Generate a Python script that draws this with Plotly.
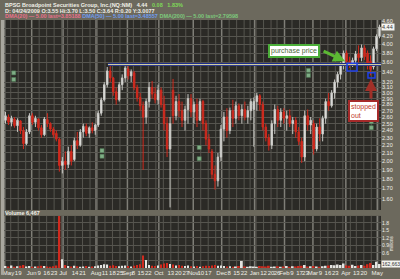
import math
import pandas as pd
import plotly.graph_objects as go

# ---------------- data ----------------
holidays = ["2008-05-26", "2008-07-04", "2008-09-01", "2008-11-27", "2008-12-25",
            "2009-01-01", "2009-01-19", "2009-02-16", "2009-04-10"]
first_day = "2008-05-06"
last_day = "2009-05-05"

opens = [
    2.55, 2.60, 2.52, 2.57, 2.47, 2.54, 2.40, 2.22, 2.38, 2.62,
    2.52, 2.57, 2.44, 2.34, 2.56, 2.50, 2.42, 2.36, 2.28, 1.95,
    2.00, 1.96, 2.12, 2.02, 2.26, 2.20, 2.38, 2.46, 2.36, 2.44,
    2.40, 2.48, 2.66, 2.88, 3.15, 3.42, 3.28, 3.02, 2.88, 3.15,
    3.28, 3.46, 3.32, 3.38, 3.10, 2.92, 2.78, 2.60, 2.85, 3.10,
    2.98, 2.88, 3.05, 2.80, 2.50, 2.15, 3.05, 2.62, 2.85, 2.70,
    2.55, 2.72, 2.90, 2.68, 2.80, 2.55, 2.85, 2.50, 2.28, 2.12,
    1.85, 1.78, 2.05, 2.42, 2.60, 2.40, 2.70, 2.58, 2.78, 2.62,
    2.72, 2.60, 2.70, 2.72, 2.85, 2.95, 2.80, 2.45, 2.30, 2.20,
    2.50, 2.72, 2.55, 2.68, 2.58, 2.62, 2.50, 2.55, 2.38, 2.25,
    2.05, 2.62, 2.48, 2.50, 2.15, 2.45, 2.35, 2.58, 2.85, 2.78,
    3.00, 3.20, 3.35, 3.55, 3.80, 3.62, 3.55, 3.64, 3.78, 3.70,
    3.92, 3.80, 3.62, 3.50, 3.90, 4.20]
highs = [
    2.68, 2.64, 2.62, 2.60, 2.58, 2.55, 2.45, 2.42, 2.66, 2.66,
    2.62, 2.58, 2.48, 2.60, 2.66, 2.52, 2.45, 2.40, 2.30, 2.05,
    2.12, 2.18, 2.20, 2.30, 2.38, 2.42, 2.50, 2.50, 2.46, 2.52,
    2.50, 2.70, 2.92, 3.20, 3.50, 3.55, 3.30, 3.10, 3.20, 3.35,
    3.52, 3.52, 3.45, 3.42, 3.15, 3.00, 2.85, 2.90, 3.20, 3.22,
    3.10, 3.15, 3.10, 2.95, 2.60, 2.60, 3.26, 2.95, 2.98, 2.85,
    2.78, 2.98, 2.98, 2.85, 2.90, 2.90, 2.88, 2.55, 2.35, 2.15,
    1.95, 2.10, 2.48, 2.68, 2.74, 2.75, 2.88, 2.85, 2.82, 2.80,
    2.85, 2.78, 2.90, 2.92, 3.00, 2.98, 2.85, 2.50, 2.35, 2.55,
    2.80, 2.78, 2.74, 2.74, 2.70, 2.72, 2.60, 2.60, 2.45, 2.30,
    2.70, 2.72, 2.60, 2.55, 2.50, 2.58, 2.62, 2.90, 3.00, 3.05,
    3.25, 3.40, 3.60, 3.86, 3.86, 3.72, 3.70, 3.85, 3.98, 4.00,
    3.98, 3.86, 3.75, 3.95, 4.25, 4.50]
lows = [
    2.50, 2.48, 2.46, 2.44, 2.38, 2.35, 2.15, 2.20, 2.35, 2.48,
    2.45, 2.40, 2.30, 2.32, 2.45, 2.38, 2.30, 2.25, 1.88, 1.86,
    1.90, 1.92, 1.95, 2.00, 2.15, 2.18, 2.30, 2.32, 2.30, 2.36,
    2.34, 2.45, 2.62, 2.85, 3.10, 3.20, 2.95, 2.80, 2.85, 3.05,
    3.20, 3.25, 3.20, 3.05, 2.85, 2.70, 1.90, 2.50, 2.75, 2.90,
    2.82, 2.80, 2.75, 2.40, 2.05, 1.52, 2.50, 2.55, 2.60, 2.45,
    2.40, 2.50, 2.60, 2.50, 2.45, 2.55, 2.40, 2.20, 2.10, 1.80,
    1.69, 1.72, 2.00, 2.25, 2.30, 2.35, 2.45, 2.50, 2.55, 2.50,
    2.55, 2.50, 2.55, 2.18, 2.70, 2.70, 2.40, 2.25, 2.13, 2.15,
    2.35, 2.45, 2.45, 2.50, 2.40, 2.45, 2.35, 2.30, 2.20, 1.98,
    2.00, 2.40, 2.35, 2.08, 2.12, 2.25, 2.25, 2.50, 2.70, 2.75,
    2.90, 3.10, 3.25, 3.45, 3.55, 3.48, 3.50, 3.52, 3.60, 3.62,
    3.65, 3.45, 3.33, 3.45, 3.85, 4.15]
closes = [
    2.62, 2.52, 2.58, 2.47, 2.55, 2.40, 2.22, 2.38, 2.62, 2.52,
    2.58, 2.44, 2.34, 2.57, 2.50, 2.42, 2.34, 2.28, 1.95, 2.00,
    1.96, 2.12, 2.00, 2.26, 2.20, 2.38, 2.46, 2.36, 2.44, 2.40,
    2.48, 2.66, 2.88, 3.15, 3.42, 3.28, 3.02, 2.88, 3.15, 3.28,
    3.48, 3.32, 3.40, 3.10, 2.92, 2.78, 2.60, 2.85, 3.10, 2.98,
    2.88, 3.05, 2.80, 2.50, 2.15, 2.50, 2.62, 2.85, 2.70, 2.55,
    2.72, 2.90, 2.68, 2.80, 2.55, 2.85, 2.50, 2.28, 2.15, 1.85,
    1.78, 2.05, 2.42, 2.60, 2.40, 2.70, 2.58, 2.78, 2.62, 2.72,
    2.60, 2.70, 2.85, 2.85, 2.95, 2.80, 2.45, 2.30, 2.20, 2.50,
    2.72, 2.55, 2.68, 2.58, 2.62, 2.50, 2.55, 2.38, 2.25, 2.05,
    2.62, 2.48, 2.55, 2.15, 2.45, 2.35, 2.58, 2.85, 2.78, 3.00,
    3.20, 3.35, 3.55, 3.80, 3.62, 3.55, 3.64, 3.78, 3.70, 3.92,
    3.72, 3.55, 3.45, 3.90, 4.20, 4.44]
volumes_m = [
    0.08, 0.06, 0.10, 0.05, 0.07, 0.09, 0.12, 0.06, 0.08, 0.05,
    0.06, 0.07, 0.09, 0.08, 0.06, 0.05, 0.07, 0.10, 2.60, 0.35,
    0.12, 0.08, 0.06, 0.09, 0.07, 0.05, 0.06, 0.08, 0.05, 0.06,
    0.07, 0.10, 0.12, 0.15, 0.14, 0.09, 0.11, 0.08, 0.07, 0.09,
    0.10, 0.08, 0.06, 0.09, 0.12, 0.15, 0.50, 0.32, 0.12, 0.09,
    0.08, 0.10, 0.14, 0.18, 0.20, 0.16, 0.14, 0.10, 0.12, 0.09,
    0.08, 0.10, 0.07, 0.06, 0.08, 0.05, 0.07, 0.09, 0.08, 0.10,
    0.12, 0.09, 0.10, 0.08, 0.06, 0.07, 0.05, 0.06, 0.08, 0.28,
    0.06, 0.05, 0.07, 0.06, 0.05, 0.08, 0.07, 0.06, 0.09, 0.05,
    0.06, 0.07, 0.05, 0.06, 0.08, 0.05, 0.07, 0.06, 0.08, 0.09,
    0.12, 0.06, 0.07, 0.08, 0.06, 0.05, 0.07, 0.09, 0.10, 0.12,
    0.11, 0.14, 0.12, 0.18, 0.10, 0.09, 0.13, 0.08, 0.10, 0.12,
    0.09, 0.15, 0.20, 0.12, 0.25, 0.16]

tick_dates = ["2008-05-06", "2008-05-19", "2008-06-02", "2008-06-09", "2008-06-16", "2008-06-23",
              "2008-07-01", "2008-07-14", "2008-07-21", "2008-08-01", "2008-08-11", "2008-08-18",
              "2008-08-25", "2008-09-02", "2008-09-08", "2008-09-15", "2008-09-22", "2008-10-01",
              "2008-10-13", "2008-10-20", "2008-10-27", "2008-11-03", "2008-11-10", "2008-11-17",
              "2008-12-01", "2008-12-08", "2008-12-15", "2008-12-22", "2009-01-02", "2009-01-12",
              "2009-01-20", "2009-01-26", "2009-02-02", "2009-02-09", "2009-02-17", "2009-02-23",
              "2009-03-02", "2009-03-09", "2009-03-16", "2009-03-23", "2009-04-01", "2009-04-13",
              "2009-04-20", "2009-05-01"]
tick_texts = ["May", "19", "Jun", "9", "16", "23", "Jul", "14", "21", "Aug", "11", "18", "25",
              "Sep", "8", "15", "22", "Oct", "13", "20", "27", "Nov", "10", "17", "Dec", "8", "15",
              "22", "Jan", "12", "20", "26", "Feb", "9", "17", "23", "Mar", "9", "16", "23", "Apr",
              "13", "20", "May"]
price_ticks = [1.6, 1.7, 1.8, 1.9, 2.0, 2.1, 2.2, 2.3, 2.4, 2.5, 2.6, 2.7, 2.8, 2.9, 3.0,
               3.1, 3.2, 3.4, 3.6, 3.8, 4.0, 4.2, 4.4, 4.6]
volume_ticks = [0.3, 0.6, 0.9, 1.2, 1.5, 1.8]
volume_tick_texts = ["", "0.6", "0.9", "1.2", "1.5", "1.8"]

purchase_price = 3.55
purchase_line_start = "2008-08-13"
event_dates = ["2008-05-14", "2008-05-14", "2008-08-07", "2008-08-07", "2008-11-07",
               "2008-11-07", "2009-02-25", "2009-02-25", "2009-04-27", "2009-04-27"]
event_prices = [3.38, 3.25, 2.13, 2.06, 2.17, 2.03, 3.43, 3.33, 2.53, 2.44]

# ---------------- derived ----------------
days = pd.bdate_range(first_day, last_day)
days = days[~days.isin(pd.to_datetime(holidays))]
n_days = len(days)
candle_dates = days[::2]
xc = [days.get_loc(d) + 1.0 for d in candle_dates]


def dpos(d):
    return days.get_loc(pd.Timestamp(d)) + 0.5


tick_pos = [dpos(d) for d in tick_dates]
tick_pos[0] = max(tick_pos[0], 3.0)  # keep first label inside the chart
vol_colors = ["#d02a1e" if c < o else "#e4e4e0" for o, c in zip(opens, closes)]

s = pd.Series(days, index=days)
week_starts = s.groupby(days.to_period("W")).first().tolist()
month_starts = s.groupby(days.to_period("M")).first().tolist()

fig = go.Figure()
fig.add_trace(go.Candlestick(
    x=xc, open=opens, high=highs, low=lows, close=closes,
    increasing=dict(line=dict(color="#c8c8c4", width=1), fillcolor="#ececea"),
    decreasing=dict(line=dict(color="#d02a1e", width=1), fillcolor="#d02a1e"),
    whiskerwidth=0, xaxis="x", yaxis="y", hoverinfo="skip"))
fig.add_trace(go.Bar(x=xc, y=volumes_m, marker=dict(color=vol_colors, line=dict(width=0)),
                     width=1.2, xaxis="x2", yaxis="y2", hoverinfo="skip"))
fig.add_trace(go.Scatter(x=[dpos(d) for d in event_dates], y=event_prices, mode="markers",
                         marker=dict(symbol="square", size=4, color="#7fae86",
                                     line=dict(color="#4f7a55", width=0.5)),
                         xaxis="x", yaxis="y", hoverinfo="skip"))

shapes = []
for d in week_starts:
    if d in month_starts:
        continue
    for yr in ("y domain", "y2 domain"):
        shapes.append(dict(type="line", xref="x", yref=yr, x0=dpos(d), x1=dpos(d), y0=0, y1=1,
                           line=dict(color="#56554f", width=1), layer="below"))
for d in month_starts:
    for yr in ("y domain", "y2 domain"):
        shapes.append(dict(type="line", xref="x", yref=yr, x0=dpos(d), x1=dpos(d), y0=0, y1=1,
                           line=dict(color="#7f7e77", width=1.5), layer="below"))
# purchase price line
shapes.append(dict(type="line", xref="x", yref="y", x0=dpos(purchase_line_start), x1=n_days,
                   y0=purchase_price, y1=purchase_price, line=dict(color="#1c2c8a", width=3)))
shapes.append(dict(type="line", xref="x", yref="y", x0=dpos(purchase_line_start), x1=n_days,
                   y0=purchase_price, y1=purchase_price, line=dict(color="#e4dea0", width=1)))
# blue boxes
shapes.append(dict(type="rect", xref="x", yref="y", x0=229.3, x1=236, y0=3.42, y1=3.58,
                   line=dict(color="#2040e8", width=1.5)))
shapes.append(dict(type="rect", xref="x", yref="y", x0=243.3, x1=248, y0=3.28, y1=3.38,
                   line=dict(color="#2040e8", width=1.5)))
# left light strip
shapes.append(dict(type="rect", xref="paper", yref="paper", x0=-3 / 378, x1=0, y0=-7 / 252,
                   y1=1, line=dict(width=0), fillcolor="#a9a79e"))

F = "Liberation Sans"
annotations = [
    dict(xref="paper", yref="paper", x=-1 / 378, y=1 + 15.5 / 252, xanchor="left", yanchor="middle",
         showarrow=False, font=dict(size=5.5, color="#f0f0e8", family=F),
         text="<b>BPSG Broadpoint Securities Group, Inc.(NQ:NM)   4.44   "
              "<span style='color:#7ed957'>0.08   1.83%</span></b>"),
    dict(xref="paper", yref="paper", x=-1 / 378, y=1 + 9.5 / 252, xanchor="left", yanchor="middle",
         showarrow=False, font=dict(size=5.5, color="#f0f0e8", family=F),
         text="<b>D: 04/24/2009 O:3.55 Hi:3.70 L:3.50 C:3.64 R:0.20 Y:3.0077</b>"),
    dict(xref="paper", yref="paper", x=-1 / 378, y=1 + 3.8 / 252, xanchor="left", yanchor="middle",
         showarrow=False, font=dict(size=5.5, color="#f0f0e8", family=F),
         text="<b><span style='color:#e8708a'>DMA(20) — 5.00 last=3.85188</span> "
              "<span style='color:#6e9cf0'>DMA(50) — 5.00 last=3.48557</span> "
              "<span style='color:#7cc97c'>DMA(200) — 5.00 last=2.79598</span></b>"),
    dict(xref="paper", yref="paper", x=-1 / 378, y=1 - 196 / 252, xanchor="left", yanchor="middle",
         showarrow=False, font=dict(size=5.5, color="#f0f0e8", family=F),
         text="<b>Volume 6,467</b>"),
    dict(xref="paper", yref="y", x=1.0, y=math.log10(4.44), xanchor="left", yanchor="middle",
         showarrow=False, font=dict(size=5.5, color="#333333", family=F), bgcolor="#f4f4f0",
         borderpad=0, text="4.44 "),
    dict(xref="paper", yref="y2", x=1.0, y=0.16, xanchor="left", yanchor="middle",
         showarrow=False, font=dict(size=5, color="#333333", family=F), bgcolor="#f4f4f0",
         borderpad=0, text="162,663"),
    dict(xref="paper", yref="y2", x=1.03, y=1.0, xanchor="center", yanchor="middle", textangle=-90,
         showarrow=False, font=dict(size=4.5, color="#f0f0e8", family=F), text="millions"),
    dict(xref="x", yref="y", x=194, y=math.log10(3.86), showarrow=False, text="purchase price",
         font=dict(size=7, color="#4a6a3a", family=F), bgcolor="#ffffff",
         bordercolor="#4caf3a", borderwidth=2, borderpad=1),
    dict(xref="x", yref="y", x=228, y=math.log10(3.62), ax=-23, ay=-11, text="", showarrow=True,
         arrowhead=2, arrowsize=0.8, arrowwidth=3, arrowcolor="#5cb833"),
    dict(xref="x", yref="y", x=240, y=math.log10(2.70), showarrow=False, text="stopped<br>out",
         align="left", font=dict(size=7, color="#c0392b", family=F), bgcolor="#ffffff",
         bordercolor="#a52a2a", borderwidth=2, borderpad=1),
    dict(xref="x", yref="y", x=245.3, y=math.log10(3.26), ax=0, ay=21, text="", showarrow=True,
         arrowhead=2, arrowsize=0.8, arrowwidth=3, arrowcolor="#a03028"),
]

grid = "#56554f"
fig.update_layout(
    width=400, height=279, margin=dict(l=3, r=19, t=20, b=7),
    paper_bgcolor="#6c695d", plot_bgcolor="#2b2a26", showlegend=False,
    shapes=shapes, annotations=annotations,
    xaxis=dict(domain=[0, 1], anchor="y", range=[0, n_days], showticklabels=False,
               showgrid=False, zeroline=False, rangeslider=dict(visible=False), fixedrange=True),
    xaxis2=dict(domain=[0, 1], anchor="y2", range=[0, n_days], tickvals=tick_pos,
                ticktext=tick_texts, tickangle=0, showgrid=False, zeroline=False, ticks="",
                ticklabeloverflow="allow",
                tickfont=dict(size=6, color="#f0f0e8", family=F)),
    yaxis=dict(domain=[0.234, 1], anchor="x", type="log", side="right",
               range=[math.log10(1.497), math.log10(4.627)], tickvals=price_ticks,
               ticktext=[f"{v:.2f}" for v in price_ticks], gridcolor=grid, gridwidth=1,
               zeroline=False, ticks="", tickfont=dict(size=5.5, color="#f0f0e8", family=F)),
    yaxis2=dict(domain=[0, 0.21], anchor="x2", side="right", range=[0, 2.08],
                tickvals=volume_ticks, ticktext=volume_tick_texts, gridcolor=grid,
                zeroline=False, ticks="", tickfont=dict(size=5, color="#f0f0e8", family=F)),
)

fig.write_html("out.html")
